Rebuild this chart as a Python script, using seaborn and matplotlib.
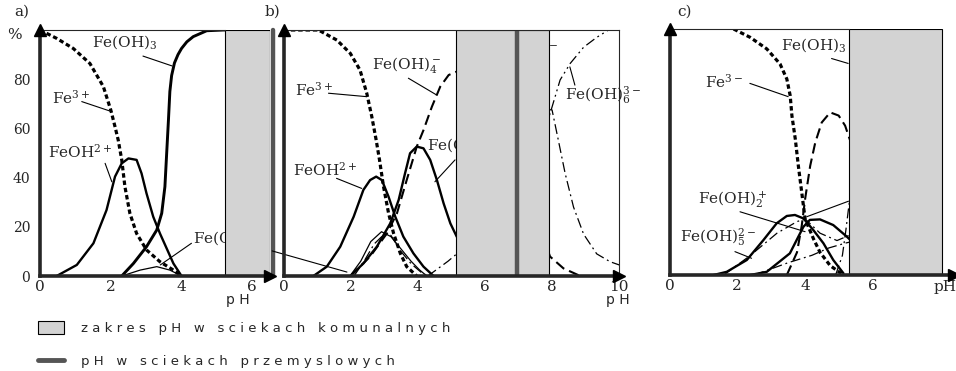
import numpy as np
import pandas as pd
import seaborn as sns
import matplotlib.pyplot as plt
from matplotlib.patches import Patch
from matplotlib.lines import Line2D

GRAY = "#d3d3d3"
DARK = "#555555"

# ---------------- panel a) ----------------
a_ph_fe3 = [0, 0.47, 0.94, 1.41, 1.79, 2.0, 2.12, 2.21, 2.31, 2.4, 2.54, 2.73, 3.01, 3.39, 3.77, 4.0]
a_fe3 = [100, 96.6, 92.5, 86.4, 77, 67.5, 60.7, 55.3, 47.2, 36.3, 25.5, 17.3, 10.6, 5.8, 2.4, 0]
a_ph_feoh = [0.47, 1.04, 1.51, 1.88, 2.12, 2.31, 2.5, 2.73, 2.87, 3.01, 3.2, 3.39, 3.58, 3.77, 4.0]
a_feoh = [0, 4.5, 13.3, 26.8, 40.4, 45.8, 47.8, 47.2, 41.7, 33.6, 24.1, 17.3, 11.2, 5.1, 0]
a_ph_feoh3 = [2.31, 2.64, 3.01, 3.3, 3.44, 3.53, 3.58, 3.63, 3.67, 3.72, 3.8, 3.9, 4.0, 4.15, 4.33, 4.71, 5.18, 6.5]
a_feoh3 = [0, 5.1, 11.9, 18.7, 25.5, 36.3, 49.9, 63.4, 75, 81.5, 86.6, 90, 92.5, 95.2, 97.3, 99.7, 100, 100]
a_ph_feoh2 = [2.31, 2.83, 3.3, 3.67, 4.0]
a_feoh2 = [0, 2.4, 3.8, 2.4, 0]
a_komunal = (5.23, 6.5)
a_przem = 6.58

# ---------------- panel b) ----------------
b_ph_fe3 = [0, 1.04, 1.59, 1.99, 2.28, 2.48, 2.63, 2.76, 2.86, 2.98, 3.13, 3.28, 3.48, 3.67, 3.97]
b_fe3 = [100, 100, 95.9, 90.5, 83.7, 74.3, 64.8, 55.3, 47.2, 36.3, 25.5, 17.3, 9.2, 3.8, 0]
b_ph_feoh = [0.89, 1.29, 1.69, 2.09, 2.38, 2.58, 2.76, 2.93, 3.13, 3.33, 3.57, 3.87, 4.17, 4.47]
b_feoh = [0, 3.8, 11.9, 24.1, 35, 39, 40.4, 39, 32.2, 24.1, 16, 9.2, 3.8, 0]
b_ph_feoh2 = [1.99, 2.38, 2.78, 3.18, 3.43, 3.62, 3.77, 3.97, 4.17, 4.37, 4.57, 4.77, 4.97, 5.16, 5.5, 6.0, 6.5]
b_feoh2 = [0, 5.1, 11.9, 21.4, 30.9, 41.7, 49.9, 52.6, 51.9, 47.2, 39, 29.5, 21.4, 16, 9, 3, 1]
b_ph_feoh4 = [1.99, 2.58, 3.08, 3.38, 3.67, 3.97, 4.17, 4.42, 4.67, 4.92, 5.16, 5.5, 6.0, 6.5, 7.0, 7.5, 7.94, 8.34, 8.84]
b_feoh4 = [0, 7.9, 17.3, 25.5, 39, 52.6, 59.3, 68.8, 77, 81.7, 83.1, 87, 88, 75, 50, 25, 7.9, 3.1, 0]
b_ph_thin = [1.98, 2.3, 2.6, 2.92, 3.2, 3.5, 3.8, 4.05, 4.27]
b_thin = [0, 6, 14, 18, 16, 11, 6, 2.5, 0]
b_ph_dimer = [2.1, 2.4, 2.7, 3.0, 3.2, 3.5, 3.8, 4.1, 4.3]
b_dimer = [0, 6, 13, 17, 16.5, 10, 5, 1.5, 0]
b_ph_feoh5 = [4.3, 4.6, 4.9, 5.16, 6.0, 7.0, 7.6, 8.0, 8.19, 8.39, 8.64, 8.94, 9.33, 9.73, 10.0]
b_feoh5 = [0, 3, 6, 9, 30, 60, 68, 67.5, 55, 41.7, 28, 17, 9, 5.8, 4.5]
b_ph_feoh6 = [6.5, 7.0, 7.5, 7.94, 8.24, 8.54, 8.94, 9.33, 9.68, 10.0]
b_feoh6 = [10, 30, 50, 66, 79.7, 86.4, 93, 97, 100, 100]
b_komunal = (5.15, 7.9)
b_przem = 6.95

# ---------------- panel c) ----------------
c_ph_fe3 = [1.89, 2.38, 2.87, 3.26, 3.46, 3.56, 3.61, 3.71, 3.8, 3.9, 4.0, 4.25, 4.44, 4.74, 5.13]
c_fe3 = [100, 96.6, 91.9, 85.8, 79.7, 72.9, 64.8, 55.3, 44.4, 33.6, 22.8, 14.6, 9.2, 3.8, 0]
c_ph_feoh4 = [3.46, 3.76, 3.9, 4.0, 4.15, 4.3, 4.49, 4.74, 4.99, 5.18, 5.28, 5.5, 6.0]
c_feoh4 = [0, 9.2, 20, 30.9, 44.4, 53.9, 62, 66.1, 64.8, 60.7, 56.6, 48, 25]
c_ph_s1 = [1.3, 1.69, 2.28, 2.77, 3.16, 3.46, 3.7, 3.95, 4.24, 4.54, 4.83, 5.13]
c_s1 = [0, 1.3, 6.1, 14.2, 21, 24, 24.4, 23, 18.3, 12.9, 6.1, 0.7]
c_ph_s2 = [2.38, 2.87, 3.55, 3.95, 4.14, 4.44, 4.83, 5.23, 5.5]
c_s2 = [0, 1.3, 8.8, 19.6, 22.4, 22.6, 20.3, 15.6, 12]
c_ph_dd1 = [1.6, 2.38, 3.17, 3.76, 4.0, 4.44, 4.94, 5.28, 5.5]
c_dd1 = [0, 7.9, 17, 21.7, 22.8, 17, 14, 16, 18]
c_ph_dd2 = [2.5, 3.5, 4.2, 4.7, 5.2, 5.5]
c_dd2 = [0, 5, 8, 11, 13, 14]
c_ph_dd3 = [4.9, 5.1, 5.2, 5.28, 5.5]
c_dd3 = [0, 8, 18, 27, 50]
c_komunal = (5.28, 8.05)

STYLES = {
    "dots": dict(lw=2.3, linestyle=(0, (1.4, 0.9))),
    "dash": dict(lw=1.5, linestyle=(0, (5, 2.5))),
    "thick": dict(lw=1.7, linestyle="-"),
    "bold": dict(lw=2.1, linestyle="-"),
    "thin": dict(lw=0.9, linestyle="-"),
    "dashdot": dict(lw=0.9, linestyle=(0, (8, 3, 1.5, 3))),
    "dashdotdot": dict(lw=0.9, linestyle=(0, (8, 3, 1.5, 3, 1.5, 3))),
}

sns.set_style("white")
plt.rcParams["font.family"] = ["DejaVu Serif"]
plt.rcParams["mathtext.fontset"] = "dejavuserif"

W, H = 956, 371


def box(l, r, t, b):
    return [l / W, 1 - b / H, (r - l) / W, (b - t) / H]


def curve(ax, x, y, kind):
    sns.lineplot(x=x, y=y, ax=ax, color="black", errorbar=None, zorder=2, **STYLES[kind])


def tag(ax, text, tx, ty, x0, y0, x1, y1):
    ax.text(tx, ty, text, ha="left", va="center", fontsize=11, zorder=2.5, clip_on=False)
    ax.plot([x0, x1], [y0, y1], color="black", lw=0.8, zorder=2.5, clip_on=False)


def frame(ax, xmax, xticks, top_end, right=False):
    ax.set_xlim(0, xmax)
    ax.set_ylim(0, 100)
    ax.set_xlabel("")
    ax.set_ylabel("")
    ax.spines["left"].set_linewidth(2.6)
    ax.spines["bottom"].set_linewidth(2.6)
    ax.spines["top"].set_linewidth(0.8)
    ax.spines["top"].set_bounds(0, top_end)
    ax.spines["right"].set_linewidth(0.8)
    ax.spines["right"].set_visible(right)
    for sp in ax.spines.values():
        sp.set_zorder(5)
    ax.set_xticks(xticks)
    ax.set_yticks([0, 20, 40, 60, 80])
    ax.tick_params(axis="y", direction="in", length=7, width=1, labelsize=10, pad=7)
    ax.tick_params(axis="x", direction="in", length=4, width=1, labelsize=11, pad=3)
    ax.plot([0], [1], marker="^", ms=8, color="black", transform=ax.transAxes, clip_on=False, zorder=6)
    ax.plot([1], [0], marker=">", ms=8, color="black", transform=ax.transAxes, clip_on=False, zorder=6)


fig = plt.figure(figsize=(9.56, 3.71), dpi=100)
ax_a = fig.add_axes(box(40, 270, 30, 276))
ax_b = fig.add_axes(box(283.5, 619.2, 30, 276))
ax_c = fig.add_axes(box(669.5, 954.3, 29, 275))

# ---- a)
curve(ax_a, a_ph_fe3, a_fe3, "dots")
curve(ax_a, a_ph_feoh, a_feoh, "thick")
curve(ax_a, a_ph_feoh3, a_feoh3, "bold")
curve(ax_a, a_ph_feoh2, a_feoh2, "thin")
ax_a.axvspan(*a_komunal, facecolor=GRAY, edgecolor="black", lw=0.8, zorder=3)
ax_a.axvline(a_przem, color=DARK, lw=3.2, zorder=4, clip_on=False)
frame(ax_a, 6.5, [0, 2, 4, 6], a_komunal[0])
ax_a.set_yticklabels(["0", "20", "40", "60", "80"])
tag(ax_a, "Fe(OH)$_3$", 1.47, 95, 2.91, 89.4, 3.73, 85.4)
tag(ax_a, "Fe$^{3+}$", 0.34, 72.4, 1.18, 70.9, 2.03, 66.8)
tag(ax_a, "FeOH$^{2+}$", 0.23, 50.4, 1.84, 45.8, 2.03, 38.3)
tag(ax_a, "Fe(OH)$_2^+$", 4.31, 14.6, 4.28, 13.3, 3.4, 4.5)

# ---- b)
curve(ax_b, b_ph_fe3, b_fe3, "dots")
curve(ax_b, b_ph_feoh, b_feoh, "thick")
curve(ax_b, b_ph_feoh2, b_feoh2, "thick")
curve(ax_b, b_ph_feoh4, b_feoh4, "dash")
curve(ax_b, b_ph_thin, b_thin, "thin")
curve(ax_b, b_ph_dimer, b_dimer, "dashdot")
curve(ax_b, b_ph_feoh5, b_feoh5, "dashdot")
curve(ax_b, b_ph_feoh6, b_feoh6, "dashdotdot")
ax_b.axvspan(*b_komunal, facecolor=GRAY, edgecolor="black", lw=0.8, zorder=3)
ax_b.axvline(b_przem, color=DARK, lw=3.2, zorder=4)
frame(ax_b, 10, [0, 2, 4, 6, 8, 10], 10, right=True)
ax_b.tick_params(axis="y", labelleft=False)
tag(ax_b, "Fe$^{3+}$", 0.34, 75.6, 1.34, 74.3, 2.48, 72.9)
tag(ax_b, "FeOH$^{2+}$", 0.29, 43, 1.58, 39.7, 2.33, 35.6)
tag(ax_b, "Fe(OH)$_4^-$", 2.63, 85.8, 3.72, 80.4, 4.56, 73.6)
tag(ax_b, "Fe(OH)$_2^+$", 4.27, 52.4, 5.11, 47.2, 4.51, 38.3)
tag(ax_b, "Fe(OH)$_6^{3-}$", 8.39, 73.6, 8.68, 77.6, 8.53, 85)
ax_b.text(8.18, 92, "Fe(OH)$_5^{2-}$", ha="right", va="center", fontsize=11, zorder=2.5)
ax_b.plot([-0.34, 1.89], [10.2, 1.6], color="black", lw=0.8, zorder=2.5, clip_on=False)

# ---- c)
curve(ax_c, c_ph_fe3, c_fe3, "dots")
curve(ax_c, c_ph_feoh4, c_feoh4, "dash")
curve(ax_c, c_ph_s1, c_s1, "thick")
curve(ax_c, c_ph_s2, c_s2, "thick")
curve(ax_c, c_ph_dd1, c_dd1, "dashdot")
curve(ax_c, c_ph_dd2, c_dd2, "dashdot")
curve(ax_c, c_ph_dd3, c_dd3, "dashdot")
ax_c.axvspan(*c_komunal, facecolor=GRAY, edgecolor="black", lw=0.8, zorder=3)
frame(ax_c, 8.4, [0, 2, 4, 6], c_komunal[0])
ax_c.tick_params(axis="y", labelleft=False)
ax_c.text(8.13, -5, "pH", ha="center", va="center", fontsize=11)
tag(ax_c, "Fe(OH)$_3$", 3.3, 93.5, 4.78, 88, 5.27, 86)
tag(ax_c, "Fe$^{3-}$", 1.05, 78.5, 2.37, 77.9, 3.5, 72.5)
tag(ax_c, "Fe(OH)$_2^+$", 0.85, 30.5, 2.08, 25.7, 4.0, 17.6)
tag(ax_c, "Fe(OH)$_5^{2-}$", 0.31, 15.4, 1.93, 9.5, 2.42, 6.8)
ax_c.plot([4.05, 5.28], [23.7, 30], color="black", lw=0.8, zorder=2.5)

# panel letters, axis names
for x, s in [(22, "a)"), (272, "b)"), (684, "c)")]:
    fig.text(x / W, 1 - 12 / H, s, ha="center", va="center", fontsize=11)
fig.text(14 / W, 1 - 35 / H, "%", ha="center", va="center", fontsize=11)
for x in [238, 618]:
    fig.text(x / W, 1 - 300 / H, "p H", ha="center", va="center", fontsize=10,
             family="DejaVu Sans")

# legend
handles = [Patch(facecolor=GRAY, edgecolor="black", lw=0.8),
           Line2D([0], [0], color=DARK, lw=3.5)]
labels = ["z a k r e s   p H   w   s c i e k a c h   k o m u n a l n y c h",
          "p H   w   s c i e k a c h   p r z e m y s l o w y c h"]
fig.legend(handles, labels, loc="upper left", bbox_to_anchor=(26 / W, 1 - 309 / H),
           frameon=False, prop={"family": "DejaVu Sans", "size": 9.5},
           handlelength=2.0, handleheight=1.2, handletextpad=1.3, labelspacing=1.45)

fig.savefig("out.png", dpi=100)
